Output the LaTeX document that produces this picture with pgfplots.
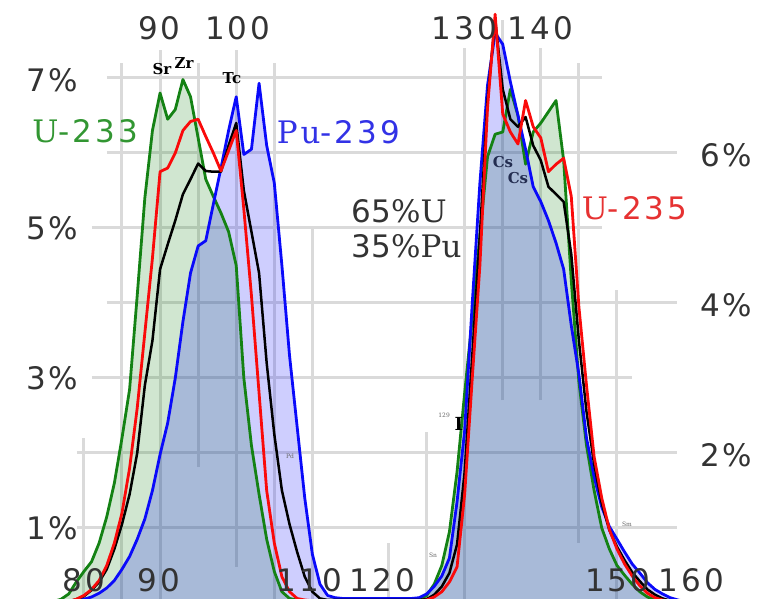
\documentclass[border=0pt]{standalone}
\usepackage{pgfplots}
\pgfplotsset{compat=1.18}
\usepackage{pgfplotstable}
\usepackage{fontspec}
\setmainfont{DejaVu Sans}
\newfontfamily\dvs[LetterSpace=10]{DejaVu Sans}
\newfontfamily\dvsr[LetterSpace=10]{DejaVu Serif}
\newfontfamily\dvsrn{DejaVu Serif}
\newfontfamily\dvsn{DejaVu Sans}
\newcommand\bigtxt{\fontsize{31bp}{31bp}\selectfont}
\definecolor{gridc}{RGB}{218,218,218}
\definecolor{tickc}{RGB}{51,51,51}
\definecolor{ugreen}{RGB}{20,130,20}
\definecolor{ured}{RGB}{250,10,10}
\definecolor{pblue}{RGB}{10,10,250}
\definecolor{lgreen}{RGB}{50,150,50}
\definecolor{lred}{RGB}{230,50,50}
\definecolor{lblue}{RGB}{50,50,230}
\definecolor{csc}{RGB}{35,45,80}

\pgfplotstableread{
A    u233  u235  mix   pu239
74   0.00  0.00  0.00  0.00
75   0.01  0.00  0.00  0.00
76   0.02  0.00  0.00  0.00
77   0.05  0.01  0.00  0.01
78   0.12  0.02  0.02  0.02
79   0.28  0.05  0.05  0.03
80   0.42  0.10  0.09  0.05
81   0.55  0.18  0.17  0.08
82   0.80  0.30  0.28  0.13
83   1.15  0.50  0.45  0.20
84   1.60  0.80  0.72  0.30
85   2.20  1.20  1.05  0.45
86   2.85  1.80  1.45  0.62
87   4.10  2.60  2.00  0.85
88   5.40  3.60  2.90  1.12
89   6.30  4.60  3.50  1.50
90   6.80  5.75  4.45  1.98
91   6.45  5.80  4.78  2.40
92   6.58  6.00  5.10  3.00
93   6.98  6.30  5.45  3.75
94   6.75  6.42  5.65  4.40
95   6.20  6.45  5.86  4.76
96   5.65  6.22  5.76  4.83
97   5.42  6.00  5.75  5.32
98   5.20  5.76  5.75  5.80
99   4.95  6.03  6.10  6.30
100  4.50  6.30  6.40  6.75
101  3.00  5.25  5.50  5.98
102  2.10  4.10  4.95  6.05
103  1.45  2.80  4.40  6.93
104  0.85  1.50  3.20  6.10
105  0.42  0.80  2.25  5.60
106  0.15  0.35  1.50  4.50
107  0.06  0.15  1.05  3.30
108  0.04  0.06  0.68  2.35
109  0.03  0.04  0.35  1.40
110  0.03  0.03  0.15  0.65
111  0.03  0.03  0.06  0.25
112  0.03  0.03  0.04  0.10
113  0.03  0.03  0.04  0.07
114  0.03  0.03  0.04  0.06
115  0.03  0.03  0.04  0.06
116  0.03  0.03  0.04  0.06
117  0.03  0.03  0.04  0.06
118  0.03  0.03  0.04  0.06
119  0.03  0.03  0.04  0.06
120  0.03  0.03  0.04  0.06
121  0.03  0.03  0.04  0.06
122  0.03  0.03  0.04  0.06
123  0.03  0.03  0.04  0.06
124  0.04  0.03  0.04  0.07
125  0.10  0.04  0.05  0.12
126  0.25  0.08  0.11  0.22
127  0.50  0.15  0.22  0.36
128  0.95  0.28  0.40  0.60
129  1.75  0.48  0.78  1.35
130  2.80  1.45  1.75  2.30
131  3.80  3.00  3.30  4.00
132  4.90  4.50  4.90  5.60
133  5.95  6.60  6.70  6.90
134  6.25  7.85  7.78  7.60
135  6.28  6.52  6.85  7.45
136  6.85  6.28  6.45  6.95
137  6.50  6.12  6.35  6.50
138  5.85  6.70  6.48  6.05
139  6.28  6.35  6.10  5.55
140  6.40  6.20  5.90  5.35
141  6.55  5.75  5.55  5.10
142  6.70  5.85  5.45  4.80
143  5.90  5.93  5.35  4.45
144  4.30  5.42  4.65  3.70
145  2.95  3.95  3.50  3.05
146  2.10  2.90  2.55  2.20
147  1.50  1.95  1.85  1.68
148  1.00  1.40  1.33  1.28
149  0.72  0.98  0.97  1.02
150  0.50  0.72  0.75  0.85
151  0.37  0.52  0.57  0.68
152  0.25  0.36  0.41  0.52
153  0.15  0.23  0.29  0.40
154  0.08  0.13  0.18  0.27
155  0.04  0.07  0.11  0.18
156  0.02  0.04  0.06  0.12
157  0.01  0.02  0.03  0.07
158  0.00  0.01  0.02  0.04
159  0.00  0.00  0.01  0.02
160  0.00  0.00  0.00  0.01
161  0.00  0.00  0.00  0.00
}\yields

\begin{document}
\begin{tikzpicture}
\begin{axis}[
  scale only axis, width=765bp, height=599bp,
  xmin=68.98, xmax=169.44, ymin=0.053, ymax=8.04,
  hide axis, clip mode=individual, no markers,
]
\coordinate (ll) at (rel axis cs:0,0);
\coordinate (ur) at (rel axis cs:1,1);
% grid lines
\begin{scope}[gridc, line width=3bp]
\draw (axis cs:80,0) -- (axis cs:80,2.2);
\draw (axis cs:85,0) -- (axis cs:85,7.2);
\draw (axis cs:90,0) -- (axis cs:90,7.37);
\draw (axis cs:95,1.81) -- (axis cs:95,7.2);
\draw (axis cs:100,0.48) -- (axis cs:100,7.37);
\draw (axis cs:105,0) -- (axis cs:105,7.2);
\draw (axis cs:110,0) -- (axis cs:110,5.0);
\draw (axis cs:120,0) -- (axis cs:120,0.8);
\draw (axis cs:125,0) -- (axis cs:125,2.28);
\draw (axis cs:130,0) -- (axis cs:130,7.4);
\draw (axis cs:135,2.7) -- (axis cs:135,7.77);
\draw (axis cs:140,2.7) -- (axis cs:140,7.4);
\draw (axis cs:145,0.8) -- (axis cs:145,7.2);
\draw (axis cs:150,0) -- (axis cs:150,4.17);
\draw (axis cs:83.03,7) -- (axis cs:148.03,7);
\draw (axis cs:83.03,6) -- (axis cs:157.88,6);
\draw (axis cs:81.06,5) -- (axis cs:148.03,5);
\draw (axis cs:83.03,4) -- (axis cs:157.88,4);
\draw (axis cs:81.06,3) -- (axis cs:151.97,3);
\draw (axis cs:79.09,2) -- (axis cs:157.88,2);
\draw (axis cs:79.09,1) -- (axis cs:157.88,1);
\end{scope}
% fills
\addplot[draw=none, fill=ugreen, fill opacity=0.2] table[x=A,y=u233]{\yields} \closedcycle;
\addplot[draw=none, fill=pblue, fill opacity=0.2] table[x=A,y=pu239]{\yields} \closedcycle;
% lines
\addplot[ugreen, line width=2.8bp, line join=round] table[x=A,y=u233]{\yields};
\addplot[pblue, line width=2.8bp, line join=round] table[x=A,y=pu239]{\yields};
\addplot[black, line width=2.5bp, line join=round] table[x=A,y=mix]{\yields};
\addplot[ured, line width=2.8bp, line join=round] table[x=A,y=u235]{\yields};
% top tick labels
\begin{scope}[every node/.style={text=tickc, font=\bigtxt\dvs, inner sep=0pt}]
\node at (axis cs:89.9,7.667) {90};
\node at (axis cs:100.2,7.667) {100};
\node at (axis cs:129.98,7.667) {130};
\node at (axis cs:139.96,7.667) {140};
% bottom tick labels
\node at (axis cs:79.95,0.31) {80};
\node at (axis cs:89.8,0.31) {90};
\node at (axis cs:109.6,0.31) {110};
\node at (axis cs:119.2,0.31) {120};
\node at (axis cs:150.1,0.31) {150};
\node at (axis cs:159.8,0.31) {160};
% left labels
\node[anchor=east] at (axis cs:79.3,6.97) {7\%};
\node[anchor=east] at (axis cs:79.3,5.0) {5\%};
\node[anchor=east] at (axis cs:79.3,3.0) {3\%};
\node[anchor=east] at (axis cs:79.3,1.0) {1\%};
% right labels
\node[anchor=west] at (axis cs:160.9,5.97) {6\%};
\node[anchor=west] at (axis cs:160.9,3.97) {4\%};
\node[anchor=west] at (axis cs:160.9,1.97) {2\%};
\end{scope}
% series labels
\node[anchor=west, inner sep=0pt, text=lgreen, font=\bigtxt] at (axis cs:73.2,6.29) {{\dvsr U}{\dvs -233}};
\node[anchor=west, inner sep=0pt, text=lblue, font=\bigtxt] at (axis cs:105.3,6.28) {{\dvsr Pu}{\dvs -239}};
\node[anchor=west, inner sep=0pt, text=lred, font=\bigtxt] at (axis cs:145.35,5.27) {{\dvsr U}{\dvs -235}};
\node[anchor=west, inner sep=0pt, text=tickc, font=\bigtxt] at (axis cs:115.15,5.23) {{\dvsn 65}{\dvsrn \%U}};
\node[anchor=west, inner sep=0pt, text=tickc, font=\bigtxt] at (axis cs:115.15,4.76) {{\dvsn 35}{\dvsrn \%Pu}};
% nuclide labels
\begin{scope}[every node/.style={inner sep=0pt, font=\fontsize{15bp}{15bp}\selectfont\dvsrn\bfseries}]
\node at (axis cs:90.25,7.12) {Sr};
\node at (axis cs:93.14,7.2) {Zr};
\node at (axis cs:99.45,7.0) {Tc};
\node[text=csc] at (axis cs:135.03,5.88) {Cs};
\node[text=csc] at (axis cs:137.0,5.67) {Cs};
\node[font=\fontsize{18bp}{18bp}\selectfont\dvsrn\bfseries] at (axis cs:129.25,2.39) {I};
\end{scope}
\begin{scope}[every node/.style={inner sep=0pt, text=black!60, font=\fontsize{6bp}{6bp}\selectfont\dvsrn}]
\node at (axis cs:127.3,2.5) {129};
\node at (axis cs:107.06,1.96) {Pd};
\node at (axis cs:125.84,0.64) {Sn};
\node at (axis cs:151.32,1.05) {Sm};
\end{scope}
\end{axis}
\pgfresetboundingbox
\path (ll) rectangle (ur);
\end{tikzpicture}
\end{document}
